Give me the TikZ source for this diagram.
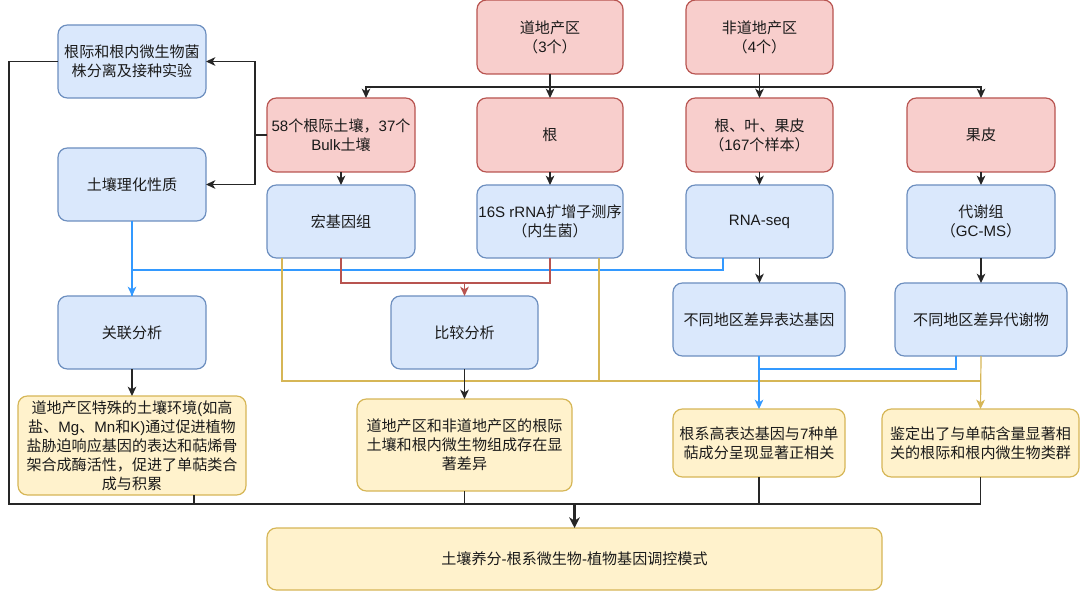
\documentclass[tikz,border=0pt]{standalone}
\usepackage{fontspec}
\setmainfont{Noto Sans CJK SC}
\newfontfamily\latfont{Liberation Sans}
\newcommand\lat[1]{{\latfont #1}}
\usetikzlibrary{arrows.meta,calc}
\definecolor{rfill}{HTML}{F8CECC}\definecolor{rdraw}{HTML}{B85450}
\definecolor{bfill}{HTML}{DAE8FC}\definecolor{bdraw}{HTML}{6C8EBF}
\definecolor{yfill}{HTML}{FFF2CC}\definecolor{ydraw}{HTML}{D6B656}
\definecolor{bline}{HTML}{3399FF}
\definecolor{txt}{HTML}{1A1A1A}
\newcommand\bx[7]{\node[#1,minimum width={(#5-#3)*0.75pt},minimum height={(#6-#4)*0.75pt}] (#2) at ({(#3+#5)/2},{(#4+#6)/2}) {#7};}
\tikzset{
  box/.style={rounded corners=7pt, line width=0.9pt, inner sep=1pt, outer sep=0pt, align=center,
    font=\fontsize{11.3}{14.3}\selectfont, text=txt},
  rbox/.style={box, fill=rfill, draw=rdraw},
  bbox/.style={box, fill=bfill, draw=bdraw},
  ybox/.style={box, fill=yfill, draw=ydraw},
  ln/.style={line width=0.9pt, draw=black!85},
  tip/.style={-{Stealth[length=7pt,width=6.5pt,inset=2pt]}},
  arr/.style={ln, tip},
  bl/.style={line width=0.9pt, draw=bline},
  rd/.style={line width=0.9pt, draw=rdraw},
  yl/.style={line width=0.9pt, draw=ydraw},
}
\begin{document}
\begin{tikzpicture}[x=0.75pt,y=-0.75pt]
\useasboundingbox (0,0) rectangle (1080,591);
% top row
\bx{rbox}{dao}{477}{0}{623}{74}{道地产区\\（\lat{3}个）}
\bx{rbox}{nd}{686}{0}{833}{74}{非道地产区\\（\lat{4}个）}
% left column
\bx{bbox}{a1}{58}{25}{206}{98}{根际和根内微生物菌\\株分离及接种实验}
\bx{bbox}{a2}{58}{148}{206}{221}{土壤理化性质}
\bx{bbox}{a3}{58}{296}{206}{369}{关联分析}
\bx{ybox}{a4}{18}{396}{246}{495}{道地产区特殊的土壤环境\lat{(}如高\\盐、\lat{Mg}、\lat{Mn}和\lat{K)}通过促进植物\\盐胁迫响应基因的表达和萜烯骨\\架合成酶活性，促进了单萜类合\\成与积累}
% sample row
\bx{rbox}{r1}{267}{98}{415}{172}{\lat{58}个根际土壤，\lat{37}个\\\lat{Bulk}土壤}
\bx{rbox}{r2}{477}{98}{623}{172}{根}
\bx{rbox}{r3}{686}{98}{833}{172}{根、叶、果皮\\（\lat{167}个样本）}
\bx{rbox}{r4}{907}{98}{1055}{172}{果皮}
% method row
\bx{bbox}{b1}{267}{185}{415}{258}{宏基因组}
\bx{bbox}{b2}{477}{185}{623}{258}{\lat{16S rRNA}扩增子测序\\（内生菌）}
\bx{bbox}{b3}{686}{185}{833}{258}{\lat{RNA-seq}}
\bx{bbox}{b4}{907}{185}{1055}{258}{代谢组\\（\lat{GC-MS}）}
% analysis row
\bx{bbox}{cmp}{391}{296}{538}{369}{比较分析}
\bx{bbox}{deg}{673}{283}{845}{356}{不同地区差异表达基因}
\bx{bbox}{met}{895}{283}{1067}{356}{不同地区差异代谢物}
% results
\bx{ybox}{y2}{357}{399}{572}{491}{道地产区和非道地产区的根际\\土壤和根内微生物组成存在显\\著差异}
\bx{ybox}{hi}{673}{409}{845}{477}{根系高表达基因与\lat{7}种单\\萜成分呈现显著正相关}
\bx{ybox}{idf}{882}{409}{1079}{477}{鉴定出了与单萜含量显著相\\关的根际和根内微生物类群}
\bx{ybox}{bot}{267}{528}{882}{590}{土壤养分\lat{-}根系微生物\lat{-}植物基因调控模式}

% top connectors
\draw[arr] (dao.south) -- ++(0,13) -| ($(r1.north)+(25,0)$);
\draw[arr] (dao.south) -- ++(0,13) -| (r4.north);
\draw[arr] (dao.south) -- (r2.north);
\draw[arr] (nd.south) -- (r3.north);
% r1 to left column
\draw[arr] (r1.west) -- ++(-12,0) |- (a1.east);
\draw[arr] (r1.west) -- ++(-12,0) |- (a2.east);
% sample to method
\draw[arr] (r1.south) -- (b1.north);
\draw[arr] (r2.south) -- (b2.north);
\draw[arr] (r3.south) -- (b3.north);
\draw[arr] (r4.south) -- (b4.north);
% blue correlation
\draw[bl] ($(b3.south west)+(37,0)$) -- ++(0,12) -| (a3.north);
\draw[bl,tip] (a2.south) -- (a3.north);
% red comparison
\coordinate (rj) at (464.5,283);
\draw[rd] (b1.south) |- (rj) -| (b2.south);
\draw[rd,tip] (rj) -- (cmp.north);
% method to diff
\draw[arr] (b3.south) -- (b3.south |- deg.north);
\draw[arr] (b4.south) -- (met.north);
% yellow lines
\coordinate (yj) at (980.5,381);
\draw[yl] ($(b1.south west)+(15,0)$) |- (yj);
\draw[yl] ($(b2.south east)+(-24,0)$) coordinate (t2) -- (t2 |- yj);
\draw[yl,tip] (met.south) -- (idf.north);
% blue lines bottom
\coordinate (bj) at (759,369);
\draw[bl] ($(met.south west)+(61,0)$) |- (bj);
\draw[bl,tip] (deg.south) -- (hi.north);
% analysis to results
\draw[arr] (a3.south) -- (a4.north);
\draw[arr] (cmp.south) -- (y2.north);
% gather line
\coordinate (gj) at (574.5,504);
\draw[ln] (a1.west) -- ++(-49,0) |- (idf.south |- gj) -- (idf.south);
\draw[ln] ($(a4.south east)+(-52,0)$) coordinate (t4) -- (t4 |- gj);
\draw[ln] (y2.south) -- (y2.south |- gj);
\draw[ln] (hi.south) -- (hi.south |- gj);
\draw[line width=1.7pt, draw=black!85, -{Stealth[length=8pt,width=8pt,inset=2.5pt]}] (gj) -- (bot.north);
\end{tikzpicture}
\end{document}
